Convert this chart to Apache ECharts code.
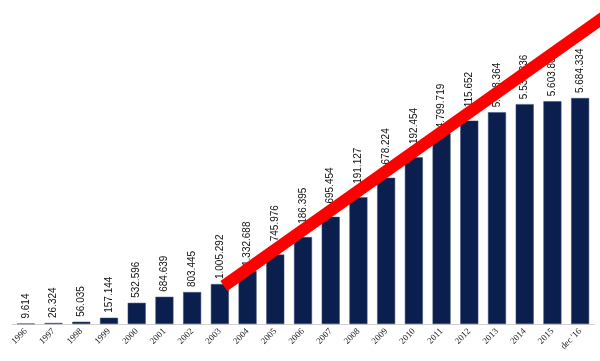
<!DOCTYPE html>
<html><head><meta charset="utf-8">
<script src="https://cdn.jsdelivr.net/npm/echarts@6/dist/echarts.min.js"></script>
<style>html,body{margin:0;padding:0;background:#fff}#c{width:600px;height:361px}</style>
</head><body><div id="c"></div>
<script>
const categories = ['1996','1997','1998','1999','2000','2001','2002','2003','2004','2005','2006','2007','2008','2009','2010','2011','2012','2013','2014','2015',"dec '16"];
const values = [9614,26324,56035,157144,532596,684639,803445,1005292,1332688,1745976,2186395,2695454,3191127,3678224,4192454,4799719,5115652,5328364,5531336,5603808,5684334];
const trendStart = ['2003', 885000];
const trendEnd = ["dec '16", 7296000];

function fmt(v){return String(v).replace(/\B(?=(\d{3})+(?!\d))/g,'.');}

const chart = echarts.init(document.getElementById('c'));
chart.setOption({
  animation:false,
  grid:{left:12,right:6,top:6,bottom:37},
  xAxis:{type:'category',data:categories,
    axisLine:{lineStyle:{color:'#d0d0d0'}},axisTick:{show:false},
    axisLabel:{rotate:45,interval:0,fontFamily:'Liberation Serif',fontSize:9,color:'#222',margin:6}},
  yAxis:{type:'value',min:0,max:8000000,show:false,splitLine:{show:false}},
  series:[{type:'bar',data:values,barWidth:18,
    itemStyle:{color:'#0b1f4f',borderColor:'#3a4a78',borderWidth:0.5},
    label:{show:true,position:'top',rotate:90,align:'left',verticalAlign:'middle',distance:5,
      fontFamily:'Liberation Sans',fontSize:10,color:'#111',formatter:p=>fmt(p.value)}}]
});
const a = chart.convertToPixel({seriesIndex:0}, trendStart);
const b = chart.convertToPixel({seriesIndex:0}, trendEnd);
const slope = (b[1]-a[1])/(b[0]-a[0]);
const x1 = a[0]+4, y1 = a[1]+slope*4;
const x2 = 620, y2 = a[1] + slope*(x2-a[0]);
chart.setOption({graphic:[{type:'line',z:100,shape:{x1:x1,y1:y1,x2:x2,y2:y2},
  style:{stroke:'#ff0000',lineWidth:12,lineCap:'butt'}}]});
</script></body></html>
